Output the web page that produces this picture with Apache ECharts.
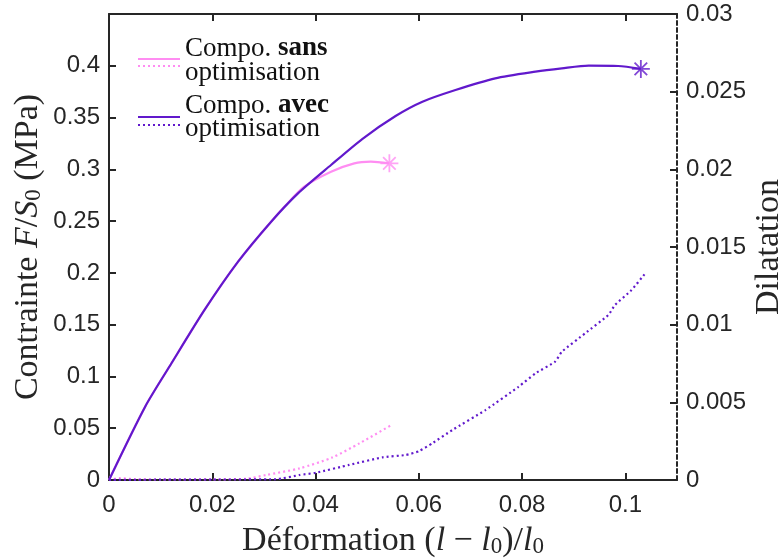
<!DOCTYPE html>
<html>
<head>
<meta charset="utf-8">
<script src="https://cdn.jsdelivr.net/npm/echarts@6/dist/echarts.min.js"></script>
<style>html,body{margin:0;padding:0;background:#fff}#c{width:783px;height:559px}</style>
</head>
<body>
<div id="c"></div>
<script>
// ---- data ----
const sansStrain = [0, 0.0070, 0.0121, 0.0185, 0.0250, 0.0314, 0.0340, 0.0378, 0.0430, 0.0475, 0.0507, 0.0543];
const sansStress = [0, 0.0708, 0.1127, 0.1642, 0.2108, 0.2494, 0.2640, 0.2832, 0.2977, 0.3058, 0.3074, 0.3058];
const avecStrain = [0, 0.0070, 0.0121, 0.0185, 0.0250, 0.0314, 0.0366, 0.0430, 0.0491, 0.0555, 0.0607, 0.0671, 0.0748, 0.0826, 0.0877, 0.0929, 0.0986, 0.1030];
const avecStress = [0, 0.0708, 0.1127, 0.1642, 0.2108, 0.2494, 0.2768, 0.3042, 0.3295, 0.3515, 0.3653, 0.3766, 0.3879, 0.3943, 0.3975, 0.4001, 0.3998, 0.3970];
const sansDilStrain = [0, 0.0020, 0.0050, 0.0100, 0.0200, 0.0266, 0.0304, 0.0369, 0.0433, 0.0485, 0.0545];
const sansDil = [0, 0.00012, 0.00005, 0.00003, 0.00004, 0.00008, 0.00032, 0.00075, 0.00146, 0.00236, 0.0035];
const avecDilStrain = [0, 0.0100, 0.0200, 0.0324, 0.0369, 0.0401, 0.0465, 0.0530, 0.0575, 0.0600, 0.0626, 0.0665, 0.0729, 0.0793, 0.0826, 0.0864, 0.0877, 0.0922, 0.0967, 0.0980, 0.1012, 0.1037];
const avecDil = [0, 0.00002, 0.00003, 0.00005, 0.00032, 0.00047, 0.00097, 0.00146, 0.00161, 0.00185, 0.00236, 0.00322, 0.0045, 0.0060, 0.00687, 0.00762, 0.00826, 0.00944, 0.01062, 0.01127, 0.01223, 0.01324];
const xTicks = [0, 0.02, 0.04, 0.06, 0.08, 0.1];
const xTickLabels = ['0', '0.02', '0.04', '0.06', '0.08', '0.1'];
const yLeftTicks = [0, 0.05, 0.1, 0.15, 0.2, 0.25, 0.3, 0.35, 0.4];
const yLeftTickLabels = ['0', '0.05', '0.1', '0.15', '0.2', '0.25', '0.3', '0.35', '0.4'];
const yRightTicks = [0, 0.005, 0.01, 0.015, 0.02, 0.025, 0.03];
const yRightTickLabels = ['0', '0.005', '0.01', '0.015', '0.02', '0.025', '0.03'];
const rightTitle = 'Dilatation';

// ---- styles ----
const PINK = '#ff8df2';
const PURPLE = '#6119cc';
const AX = '#262626';
const SANS = 'Liberation Sans, Arial, sans-serif';
const SERIF = 'Liberation Serif, Times New Roman, serif';
const TFS = 34;

function pair(xs, ys) { return xs.map((x, i) => [x, ys[i]]); }
function fmt(ticks, labels) {
  return v => { let b = 0; ticks.forEach((t, i) => { if (Math.abs(t - v) < Math.abs(ticks[b] - v)) b = i; }); return labels[b]; };
}
const starPath = 'path://M0,-10L0,10M-10,0L10,0M-7,-7L7,7M-7,7L7,-7';

const axisLine = { show: true, onZero: false, lineStyle: { color: AX, width: 2 } };
const tick = (vals) => ({ show: true, inside: true, length: 7, customValues: vals, lineStyle: { color: AX, width: 2 } });
const titleRich = {
  n: { fontFamily: SERIF, fontSize: TFS, color: AX, verticalAlign: 'bottom', lineHeight: 40 },
  i: { fontFamily: SERIF, fontStyle: 'italic', fontSize: TFS, color: AX, verticalAlign: 'bottom', lineHeight: 40 },
  s: { fontFamily: SERIF, fontSize: 23, color: AX, verticalAlign: 'bottom', lineHeight: 32 }
};

const chart = echarts.init(document.getElementById('c'), null, { renderer: 'canvas' });
chart.setOption({
  animation: false,
  backgroundColor: '#fff',
  grid: { left: 109, right: 106, top: 14, bottom: 79, containLabel: false, outerBoundsMode: 'none' },
  xAxis: [
    {
      type: 'value', min: 0, max: 0.11, position: 'bottom',
      axisLine: axisLine, axisTick: tick(xTicks), splitLine: { show: false },
      axisLabel: { customValues: xTicks, formatter: fmt(xTicks, xTickLabels), color: AX, fontSize: 24, fontFamily: SANS, margin: 13 },
      name: '{n|Déformation (}{i|l}{n| − }{i|l}{s|0}{n|)/}{i|l}{s|0}',
      nameLocation: 'middle', nameGap: 38, nameMoveOverlap: false,
      nameTextStyle: { rich: titleRich }
    },
    {
      type: 'value', min: 0, max: 0.11, position: 'top',
      axisLine: axisLine, axisTick: tick(xTicks), splitLine: { show: false },
      axisLabel: { show: false }
    }
  ],
  yAxis: [
    {
      type: 'value', min: 0, max: 0.45, position: 'left',
      axisLine: axisLine, axisTick: tick(yLeftTicks), splitLine: { show: false },
      axisLabel: { customValues: yLeftTicks, formatter: fmt(yLeftTicks, yLeftTickLabels), color: AX, fontSize: 24, fontFamily: SANS, margin: 9 },
      name: '{n|Contrainte }{i|F}{n|/}{i|S}{s|0}{n| (MPa)}',
      nameLocation: 'middle', nameRotate: 90, nameGap: 64, nameMoveOverlap: false,
      nameTextStyle: { rich: titleRich }
    },
    {
      type: 'value', min: 0, max: 0.03, position: 'right',
      axisLine: { show: true, onZero: false, lineStyle: { color: AX, width: 2, type: [4, 3] } },
      axisTick: tick(yRightTicks), splitLine: { show: false },
      axisLabel: { customValues: yRightTicks, formatter: fmt(yRightTicks, yRightTickLabels), color: AX, fontSize: 24, fontFamily: SANS, margin: 9 }
    }
  ],
  series: [
    {
      name: 'sansStress', type: 'line', xAxisIndex: 0, yAxisIndex: 0, data: pair(sansStrain, sansStress),
      showSymbol: false, smooth: 0.25, lineStyle: { color: PINK, width: 2.2 }, z: 2
    },
    {
      name: 'sansDil', type: 'line', xAxisIndex: 0, yAxisIndex: 1, data: pair(sansDilStrain, sansDil),
      showSymbol: false, smooth: 0.25, lineStyle: { color: PINK, width: 2.2, type: [2, 3] }, z: 2
    },
    {
      name: 'avecStress', type: 'line', xAxisIndex: 0, yAxisIndex: 0, data: pair(avecStrain, avecStress),
      showSymbol: false, smooth: 0.25, lineStyle: { color: PURPLE, width: 2.2 }, z: 3
    },
    {
      name: 'avecDil', type: 'line', xAxisIndex: 0, yAxisIndex: 1, data: pair(avecDilStrain, avecDil),
      showSymbol: false, smooth: 0.15, lineStyle: { color: PURPLE, width: 2.2, type: [2, 3] }, z: 3
    },
    {
      name: 'sansEnd', type: 'scatter', xAxisIndex: 0, yAxisIndex: 0,
      data: [[sansStrain[sansStrain.length - 1], sansStress[sansStress.length - 1]]],
      symbol: starPath, symbolSize: 18,
      itemStyle: { color: 'none', borderColor: PINK, borderWidth: 1.8 }, z: 4
    },
    {
      name: 'avecEnd', type: 'scatter', xAxisIndex: 0, yAxisIndex: 0,
      data: [[avecStrain[avecStrain.length - 1], avecStress[avecStress.length - 1]]],
      symbol: starPath, symbolSize: 18,
      itemStyle: { color: 'none', borderColor: PURPLE, borderWidth: 1.8 }, z: 4
    }
  ],
  graphic: [
    { type: 'text', x: 769, y: 247, rotation: Math.PI / 2, z: 10, style: { text: rightTitle, fontFamily: SERIF, fontSize: TFS, fill: AX, align: 'center', verticalAlign: 'middle' } },
    { type: 'line', shape: { x1: 138, y1: 59, x2: 180, y2: 59 }, style: { stroke: PINK, lineWidth: 2.2 }, z: 10 },
    { type: 'line', shape: { x1: 138, y1: 66, x2: 180, y2: 66 }, style: { stroke: PINK, lineWidth: 2.2, lineDash: [2, 3] }, z: 10 },
    { type: 'line', shape: { x1: 138, y1: 117, x2: 180, y2: 117 }, style: { stroke: PURPLE, lineWidth: 2.2 }, z: 10 },
    { type: 'line', shape: { x1: 138, y1: 125, x2: 180, y2: 125 }, style: { stroke: PURPLE, lineWidth: 2.2, lineDash: [2, 3] }, z: 10 },
    { type: 'text', left: 185, top: 35, z: 10, style: { text: '{n|Compo. }{b|sans}', rich: { n: { fontFamily: SERIF, fontSize: 27, fill: '#111' }, b: { fontFamily: SERIF, fontWeight: 'bold', fontSize: 27, fill: '#111' } } } },
    { type: 'text', left: 185, top: 59, z: 10, style: { text: 'optimisation', fontFamily: SERIF, fontSize: 27, fill: '#111' } },
    { type: 'text', left: 185, top: 92, z: 10, style: { text: '{n|Compo. }{b|avec}', rich: { n: { fontFamily: SERIF, fontSize: 27, fill: '#111' }, b: { fontFamily: SERIF, fontWeight: 'bold', fontSize: 27, fill: '#111' } } } },
    { type: 'text', left: 185, top: 115, z: 10, style: { text: 'optimisation', fontFamily: SERIF, fontSize: 27, fill: '#111' } }
  ]
});
</script>
</body>
</html>
